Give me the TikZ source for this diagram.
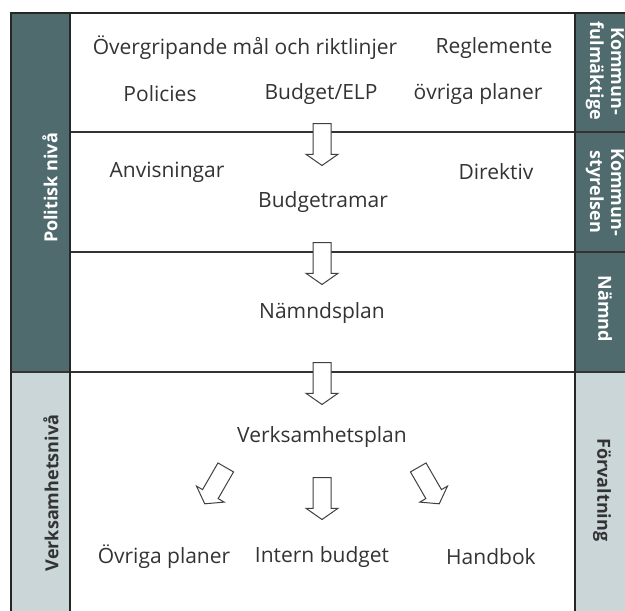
\documentclass[tikz,border=0pt]{standalone}
\usepackage{fontspec}
\setmainfont{Open Sans}
\usetikzlibrary{shapes.arrows}
\definecolor{polfill}{HTML}{4F6B6E}
\definecolor{verkfill}{HTML}{CAD6D8}
\definecolor{txtgray}{HTML}{333333}

\begin{document}
\begin{tikzpicture}[x=1pt,y=-1pt,inner sep=0pt,
  lbl/.style={text=txtgray,font=\fontsize{21}{25}\selectfont},
  side/.style={font=\bfseries\fontsize{18}{21}\selectfont,align=center},
  rule/.style={line width=1.2pt,black!80},
  blockarrow/.style={single arrow,draw=black!75,fill=white,line width=1pt,
    inner sep=8.5pt,minimum height=42pt,single arrow head extend=7pt,
    single arrow tip angle=110,anchor=tail}]
\useasboundingbox (0,0) rectangle (625,611);
% side columns
\fill[polfill] (11,13) rectangle (70,372);
\fill[verkfill] (11,372) rectangle (70,611);
\fill[polfill] (575,13) rectangle (625,372);
\fill[verkfill] (575,372) rectangle (625,611);
% frame and levels
\draw[rule] (70,132) -- (625,132);
\draw[rule] (70,252) -- (625,252);
\draw[rule] (11,372) -- (625,372);
\draw[line width=1.8pt,black!85] (11,611) -- (11,13) -- (625,13);
\draw[line width=1.5pt,black!85] (70,13) -- (70,611);
\draw[line width=1.5pt,black!85] (575,13) -- (575,611);

% Kommunfullmaktige
\node[lbl] (overgr) at (245,48) {Övergripande mål och riktlinjer};
\node[lbl] (regl) at (494,48) {Reglemente};
\node[lbl] (pol) at (160,94) {Policies};
\node[lbl] (budelp) at (321,94) {Budget/ELP};
\node[lbl] (ovrpl) at (478,94) {övriga planer};
% Kommunstyrelsen
\node[lbl] (anv) at (167,172) {Anvisningar};
\node[lbl] (dir) at (496,172) {Direktiv};
\node[lbl] (budram) at (323,202) {Budgetramar};
% Namnd
\node[lbl] (namndpl) at (322,313) {Nämndsplan};
% Forvaltning
\node[lbl] (verkpl) at (322,437) {Verksamhetsplan};
\node[lbl] (ovriga) at (164,557) {Övriga planer};
\node[lbl] (intern) at (322,557) {Intern budget};
\node[lbl] (handbok) at (491,557) {Handbok};

% arrows
\node[blockarrow,rotate=-90] (a1) at (322,123) {};
\node[blockarrow,rotate=-90] (a2) at (322,242) {};
\node[blockarrow,rotate=-90] (a3) at (322,362) {};
\node[blockarrow,rotate=-120] (a4) at (226,467) {};
\node[blockarrow,rotate=-90] (a5) at (322,477) {};
\node[blockarrow,rotate=-60] (a6) at (418,467) {};

% level labels
\node[side,text=white,rotate=90] (polniva) at (50,188) {Politisk nivå};
\node[side,text=txtgray,rotate=90] (verkniva) at (51,493) {Verksamhetsnivå};
\node[side,text=white,rotate=-90] (kf) at (605,71) {Kommun-\\fulmäktige};
\node[side,text=white,rotate=-90] (ks) at (605,192) {Kommun-\\styrelsen};
\node[side,text=white,rotate=-90] (nmd) at (605,309) {Nämnd};
\node[side,text=txtgray,rotate=-90] (forv) at (602,490) {Förvaltning};
\end{tikzpicture}
\end{document}
